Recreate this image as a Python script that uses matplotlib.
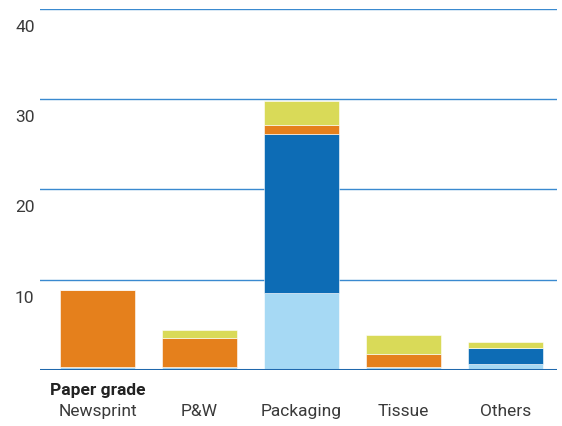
import numpy as np
import matplotlib.pyplot as plt
import matplotlib.transforms as mtransforms

# Paper grade breakdown (stacked segments, bottom to top)
grades = ['Newsprint', 'P&W', 'Packaging', 'Tissue', 'Others']
light_blue = [0.35, 0.35, 8.5, 0.35, 0.65]
dark_blue = [0.0, 0.0, 17.7, 0.0, 1.8]
orange = [8.5, 3.2, 0.9, 1.4, 0.0]
yellow = [0.0, 0.9, 2.7, 2.1, 0.65]
yticks = [10, 20, 30, 40]

colors = ['#a6d9f4', '#0d6cb5', '#e5801c', '#d9da58']
series = [light_blue, dark_blue, orange, yellow]

plt.rcParams['font.family'] = ['Roboto', 'DejaVu Sans']

fig = plt.figure(figsize=(5.62, 4.26), dpi=100)
ax = fig.add_axes([0.0712, 0.1315, 0.9198, 0.8475])

x = np.arange(len(grades))
bottom = np.zeros(len(grades))
for vals, c in zip(series, colors):
    ax.bar(x, vals, width=0.735, bottom=bottom, color=c,
           edgecolor='white', linewidth=0.4, zorder=3)
    bottom += np.array(vals)

# horizontal gridlines and value labels sitting below each line
for t in yticks:
    ax.axhline(t, color='#3a8ad0', linewidth=1.0, zorder=1)
trans = mtransforms.blended_transform_factory(fig.transFigure, ax.transData)
for t in yticks:
    ax.text(15 / 562, t - 2.05, str(t), transform=trans, ha='left', va='center',
            fontsize=12.5, color='#3a3a3a')
ax.axhline(0, color='#1f68ad', linewidth=2.2, zorder=4)

ax.set_xlim(-0.564, 4.505)
ax.set_ylim(0, 40)
ax.set_xticks([])
ax.set_yticks([])
for s in ax.spines.values():
    s.set_visible(False)

for i, g in enumerate(grades):
    ax.text(i, -4.55, g, ha='center', va='center', fontsize=12.5,
            color='#3a3a3a')
ax.text(0, -2.3, 'Paper grade', ha='center', va='center', fontsize=12.5,
        fontweight='bold', color='#222222')

fig.savefig('out.png', dpi=100)
